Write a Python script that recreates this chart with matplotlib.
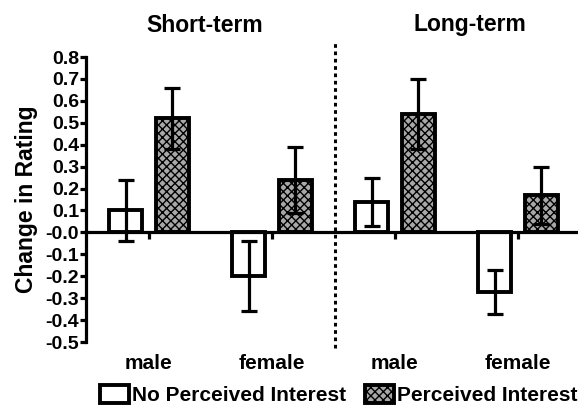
import matplotlib.pyplot as plt
from matplotlib.patches import Patch

plt.rcParams['font.family'] = ['Liberation Sans', 'DejaVu Sans']
plt.rcParams['font.weight'] = 'bold'
plt.rcParams['hatch.color'] = '#8c8c8c'
plt.rcParams['hatch.linewidth'] = 1.0

groups = ['male', 'female', 'male', 'female']
no_interest = [0.10, -0.20, 0.14, -0.27]
no_interest_lo = [-0.04, -0.36, 0.03, -0.37]
no_interest_hi = [0.24, -0.04, 0.25, -0.17]
interest = [0.52, 0.24, 0.54, 0.17]
interest_lo = [0.38, 0.09, 0.38, 0.04]
interest_hi = [0.66, 0.39, 0.70, 0.30]
yticks = [-0.5, -0.4, -0.3, -0.2, -0.1, 0.0, 0.1, 0.2, 0.3, 0.4, 0.5, 0.6, 0.7, 0.8]
ytick_labels = ['-0.5', '-0.4', '-0.3', '-0.2', '-0.1', '-0.0', '0.1', '0.2',
                '0.3', '0.4', '0.5', '0.6', '0.7', '0.8']

fig = plt.figure(figsize=(5.78, 4.09), dpi=100)
ax = fig.add_axes([0.1488, 0.1638, 0.8512, 0.6968])

x = list(range(len(groups)))
off = 0.19
w = 0.27
lw = 2.3
blw = 2.8
gray = '#a8a8a8'
xa = [i - off for i in x]
xb = [i + off for i in x]

err_a = [[v - lo for v, lo in zip(no_interest, no_interest_lo)],
         [hi - v for v, hi in zip(no_interest, no_interest_hi)]]
err_b = [[v - lo for v, lo in zip(interest, interest_lo)],
         [hi - v for v, hi in zip(interest, interest_hi)]]

ax.bar(xa, no_interest, w, color='white', edgecolor='black', linewidth=blw, zorder=2)
ax.bar(xb, interest, w, color=gray, edgecolor='black', linewidth=blw,
       hatch='xxxx', zorder=2)
ax.errorbar(xa, no_interest, yerr=err_a, fmt='none', ecolor='black',
            elinewidth=lw, capsize=6, capthick=lw, zorder=3)
ax.errorbar(xb, interest, yerr=err_b, fmt='none', ecolor='black',
            elinewidth=lw, capsize=6, capthick=lw, zorder=3)

ax.set_xlim(-0.512, 3.488)
ax.set_ylim(-0.5, 0.8)
ax.axhline(0, color='black', linewidth=lw, zorder=4)
# small ticks under the zero line at group centres
ax.plot(x, [0] * len(x), linestyle='none', marker=3, markersize=5,
        markeredgewidth=lw, color='black', zorder=4)

ax.axvline(1.51, ymin=-0.02, ymax=1.05, color='black', linestyle=(0, (1.2, 1.2)),
           linewidth=2.2, clip_on=False)

for s in ['top', 'right', 'bottom']:
    ax.spines[s].set_visible(False)
ax.spines['left'].set_linewidth(lw)
ax.set_xticks([])
ax.set_yticks(yticks)
ax.set_yticklabels(ytick_labels, fontsize=14, fontweight='bold')
ax.tick_params(axis='y', length=4, width=lw, pad=1)
ax.set_ylabel('Change in Rating', fontsize=16.5, fontweight='bold', labelpad=5)

for i, g in enumerate(groups):
    ax.text(i, -0.555, g, ha='center', va='top', fontsize=15, fontweight='bold')

fig.text(205 / 578, 1 - 25 / 409, 'Short-term', ha='center', va='center',
         fontsize=16.5, fontweight='bold')
fig.text(470 / 578, 1 - 25 / 409, 'Long-term', ha='center', va='center',
         fontsize=16.5, fontweight='bold')

handles = [Patch(facecolor='white', edgecolor='black', linewidth=blw),
           Patch(facecolor=gray, edgecolor='black', linewidth=blw, hatch='xxxx')]
fig.legend(handles, ['No Perceived Interest', 'Perceived Interest'], ncol=2,
           loc='center', bbox_to_anchor=(0.586, 1 - 395 / 409), frameon=False,
           prop={'size': 15, 'weight': 'bold'}, handlelength=1.4, handleheight=1.0,
           handletextpad=0.15, columnspacing=0.9, borderpad=0)

fig.savefig('out.png', dpi=100)
